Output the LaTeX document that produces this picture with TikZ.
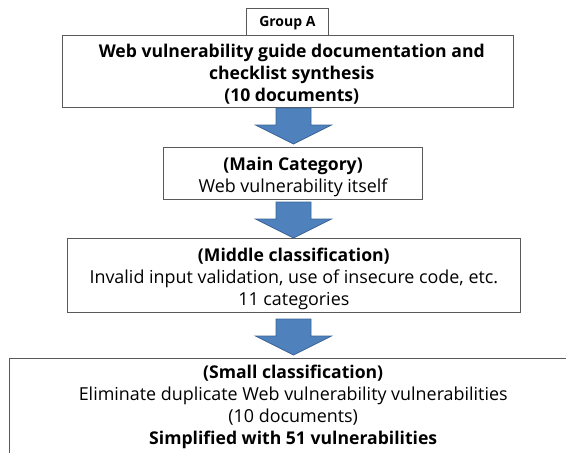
\documentclass[tikz,border=0pt]{standalone}
\usepackage{fontspec}
\setmainfont{Open Sans}
\usetikzlibrary{calc}
\definecolor{arrowfill}{HTML}{4F81BD}
\definecolor{arrowdraw}{HTML}{3A6596}
\definecolor{boxline}{HTML}{5A5A5A}
\setlength{\tabcolsep}{0pt}
\newcommand{\bl}[1]{{\fontsize{17.6}{22}\selectfont\bfseries #1}}
\newcommand{\boxtext}[2]{\raisebox{-#1pt}[\height][\depth]{\begin{tabular}{c}#2\end{tabular}}}
\tikzset{
  box/.style={draw=boxline, line width=0.9pt, fill=white, align=center, inner sep=0pt,
    font=\fontsize{17.9}{22}\selectfont},
  blockarrow/.style={fill=arrowfill, draw=arrowdraw, line width=0.7pt, line join=miter}
}
% #1 = top centre of shaft, #2 = tip
\newcommand{\blockarr}[2]{%
  \draw[blockarrow] ($(#1)+(-17.5,0)$) -- ($(#1)+(17.5,0)$) -- ($(#1)+(17.5,17)$) -- ($(#1)+(38,17)$)
    -- (#2) -- ($(#1)+(-38,17)$) -- ($(#1)+(-17.5,17)$) -- cycle;}
\begin{document}
\begin{tikzpicture}[x=1pt,y=-1pt]
\useasboundingbox (0,0) rectangle (566,453);
\clip (0,0) rectangle (566,453);
\node[box, minimum width=81.3pt, minimum height=26.7pt, font=\fontsize{14}{15}\selectfont\bfseries] (grp) at (287.4,21.65) {\raisebox{-1pt}[\height][\depth]{Group A}};
\node[box, minimum width=451pt, minimum height=72.7pt] (top) at (288.25,71.35)
  {\hspace*{7pt}\boxtext{3.3}{\bl{Web vulnerability guide documentation and}\\\bl{checklist synthesis}\\\bl{(10 documents)}}};
\node[box, minimum width=259.5pt, minimum height=52pt] (main) at (293.05,173.3)
  {\boxtext{4}{\bl{(Main Category)}\\Web vulnerability itself}};
\node[box, minimum width=452.9pt, minimum height=74pt] (mid) at (293.85,275.3)
  {\boxtext{4}{\bl{(Middle classification)}\\Invalid input validation, use of insecure code, etc.\\11 categories}};
\node[box, minimum width=600pt, minimum height=110pt, anchor=north west] (small) at (9,357.7) {};
\node[align=center, inner sep=0pt, font=\fontsize{17.9}{22}\selectfont] (smalltext) at (293.2,407.3)
  {\boxtext{0}{\bl{(Small classification)}\\Eliminate duplicate Web vulnerability vulnerabilities\\(10 documents)\\\bl{Simplified with 51 vulnerabilities}}};
\coordinate (a1s) at (293.5,108);
\coordinate (a1e) at (293.5,144);
\coordinate (a2s) at (293.5,202);
\coordinate (a2e) at (293.5,238);
\coordinate (a3s) at (293.5,319);
\coordinate (a3e) at (293.5,355);
\blockarr{a1s}{a1e}
\blockarr{a2s}{a2e}
\blockarr{a3s}{a3e}
\end{tikzpicture}
\end{document}
